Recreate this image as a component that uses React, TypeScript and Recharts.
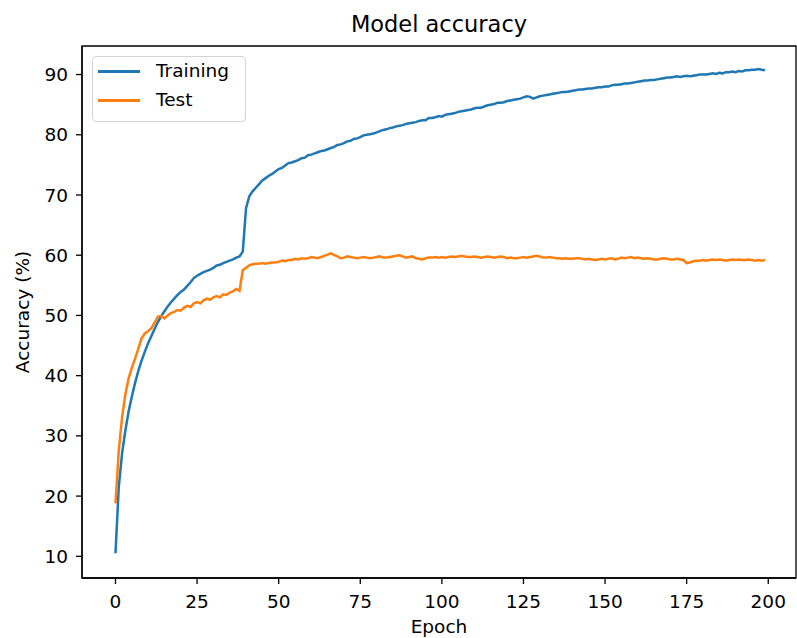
import React from 'react';
import { LineChart, Line, XAxis, YAxis, Legend, ReferenceArea } from 'recharts';

// Training accuracy (%) per epoch 0..199
const trainingAcc: number[] = [
  10.5, 21.5, 27.0, 30.8, 34.0, 36.5, 38.8, 40.8, 42.5, 44.0,
  45.4, 46.6, 47.8, 48.9, 49.9, 50.7, 51.5, 52.2, 52.8, 53.4,
  53.9, 54.3, 54.9, 55.5, 56.2, 56.6, 56.9, 57.2, 57.4, 57.6,
  57.9, 58.3, 58.4, 58.7, 58.9, 59.1, 59.3, 59.6, 59.8, 60.6,
  67.8, 69.8, 70.6, 71.2, 71.8, 72.4, 72.8, 73.2, 73.5, 73.9,
  74.3, 74.5, 74.9, 75.3, 75.4, 75.6, 75.8, 76.1, 76.2, 76.6,
  76.7, 76.9, 77.1, 77.3, 77.4, 77.6, 77.8, 78.0, 78.3, 78.4,
  78.6, 78.9, 79.0, 79.3, 79.4, 79.6, 79.9, 80.0, 80.1, 80.2,
  80.4, 80.6, 80.8, 80.9, 81.1, 81.2, 81.4, 81.5, 81.6, 81.8,
  81.9, 82.0, 82.1, 82.3, 82.4, 82.4, 82.8, 82.8, 82.9, 83.1,
  83.0, 83.3, 83.4, 83.5, 83.6, 83.8, 83.9, 84.0, 84.1, 84.2,
  84.4, 84.5, 84.5, 84.7, 84.9, 85.0, 85.1, 85.3, 85.3, 85.4,
  85.6, 85.7, 85.8, 85.9, 86.0, 86.2, 86.4, 86.3, 86.0, 86.2,
  86.4, 86.5, 86.6, 86.7, 86.8, 86.9, 87.0, 87.1, 87.1, 87.2,
  87.3, 87.4, 87.5, 87.5, 87.6, 87.7, 87.7, 87.8, 87.9, 87.9,
  88.0, 88.0, 88.2, 88.3, 88.3, 88.4, 88.5, 88.5, 88.6, 88.7,
  88.8, 88.9, 89.0, 89.0, 89.1, 89.1, 89.2, 89.3, 89.4, 89.5,
  89.5, 89.6, 89.7, 89.6, 89.7, 89.8, 89.7, 89.8, 89.9, 90.0,
  90.0, 90.0, 90.1, 90.2, 90.1, 90.3, 90.2, 90.4, 90.4, 90.5,
  90.4, 90.6, 90.5, 90.7, 90.7, 90.8, 90.8, 90.9, 90.8, 90.7,
];

// Test accuracy (%) per epoch 0..199
const testAcc: number[] = [
  18.8, 27.5, 33.0, 36.8, 39.5, 41.3, 42.8, 44.5, 46.2, 47.0,
  47.4, 47.9, 48.8, 49.8, 49.9, 49.5, 50.0, 50.4, 50.6, 50.9,
  50.8, 51.3, 51.6, 51.4, 52.0, 52.2, 52.0, 52.5, 52.8, 52.6,
  53.0, 53.2, 53.0, 53.5, 53.4, 53.8, 54.0, 54.4, 54.1, 57.5,
  57.9, 58.3, 58.5, 58.6, 58.6, 58.7, 58.6, 58.7, 58.8, 58.8,
  58.9, 59.1, 59.0, 59.2, 59.2, 59.4, 59.3, 59.5, 59.4, 59.5,
  59.7, 59.6, 59.5, 59.7, 59.9, 60.1, 60.3, 60.0, 59.8, 59.5,
  59.6, 59.8, 59.7, 59.6, 59.5, 59.6, 59.7, 59.6, 59.5, 59.6,
  59.7, 59.8, 59.6, 59.6, 59.7, 59.8, 59.9, 60.0, 59.8, 59.6,
  59.7, 59.8, 59.5, 59.4, 59.3, 59.5, 59.6, 59.6, 59.7, 59.6,
  59.7, 59.6, 59.7, 59.8, 59.7, 59.8, 59.9, 59.8, 59.7, 59.7,
  59.8, 59.7, 59.6, 59.7, 59.8, 59.7, 59.6, 59.7, 59.8, 59.7,
  59.5, 59.6, 59.5, 59.5, 59.6, 59.7, 59.6, 59.7, 59.8, 59.9,
  59.8, 59.6, 59.6, 59.7, 59.6, 59.5, 59.5, 59.4, 59.5, 59.4,
  59.4, 59.5, 59.5, 59.4, 59.3, 59.4, 59.3, 59.2, 59.3, 59.4,
  59.3, 59.4, 59.5, 59.3, 59.4, 59.6, 59.5, 59.6, 59.7, 59.5,
  59.6, 59.5, 59.4, 59.5, 59.4, 59.3, 59.3, 59.4, 59.5, 59.4,
  59.3, 59.3, 59.4, 59.3, 59.2, 58.7, 58.8, 59.0, 59.1, 59.1,
  59.2, 59.1, 59.2, 59.3, 59.2, 59.3, 59.2, 59.1, 59.2, 59.3,
  59.2, 59.3, 59.2, 59.2, 59.3, 59.2, 59.1, 59.2, 59.1, 59.2,
];

const xTicks: number[] = [0, 25, 50, 75, 100, 125, 150, 175, 200];
const yTicks: number[] = [10, 20, 30, 40, 50, 60, 70, 80, 90];
const seriesNames: string[] = ['Training', 'Test'];
const titleText = 'Model accuracy';
const xLabel = 'Epoch';
const yLabel = 'Accuracy (%)';

const data = trainingAcc.map((v, i) => ({ epoch: i, training: v, test: testAcc[i] }));

const FONT = '"DejaVu Sans", sans-serif';
const X_DOMAIN: [number, number] = [-10.26, 208.5];
const Y_DOMAIN: [number, number] = [6.4, 94.74];

const renderLegend = (props: any) => {
  const payload = [...(props.payload || [])].sort(
    (a: any, b: any) => seriesNames.indexOf(a.value) - seriesNames.indexOf(b.value)
  );
  return (
    <div
      style={{
        width: 154,
        height: 66,
        boxSizing: 'border-box',
        border: '1px solid #d4d4d4',
        borderRadius: 4,
        background: 'rgba(255,255,255,0.85)',
        paddingTop: 0,
        fontFamily: FONT,
        fontSize: 18.5,
        color: '#000',
      }}
    >
      {payload.map((entry: any, i: number) => (
        <div key={i} style={{ height: 29, display: 'flex', alignItems: 'center' }}>
          <span
            style={{
              display: 'inline-block',
              width: 42,
              height: 3,
              marginLeft: 5,
              marginRight: 16,
              background: entry.color,
            }}
          />
          <span style={{ lineHeight: 1 }}>{entry.value}</span>
        </div>
      ))}
    </div>
  );
};

const YLabel = (props: any) => {
  const vb = props.viewBox || { x: 0, y: 46, width: 82, height: 532 };
  const cx = 29;
  const cy = vb.y + vb.height / 2;
  return (
    <text
      x={cx}
      y={cy}
      transform={`rotate(-90, ${cx}, ${cy})`}
      textAnchor="middle"
      fontFamily={FONT}
      fontSize={18.5}
      fill="#000"
    >
      {yLabel}
    </text>
  );
};

export default function App() {
  return (
    <div style={{ position: 'absolute', left: 0, top: 0, width: 797, height: 638, background: '#fff' }}>
      <div
        style={{
          position: 'absolute',
          left: 82,
          width: 714,
          top: 12.5,
          textAlign: 'center',
          fontFamily: FONT,
          fontSize: 22.5,
          lineHeight: '22.5px',
          color: '#000',
        }}
      >
        {titleText}
      </div>
      <LineChart
        width={797}
        height={638}
        data={data}
        margin={{ top: 46, right: 1, bottom: 0, left: 0 }}
        style={{ fontFamily: FONT }}
      >
        <ReferenceArea
          x1={X_DOMAIN[0]}
          x2={X_DOMAIN[1]}
          y1={Y_DOMAIN[0]}
          y2={Y_DOMAIN[1]}
          fill="none"
          stroke="#000"
          strokeWidth={1.3}
          fillOpacity={0}
        />
        <XAxis
          type="number"
          dataKey="epoch"
          domain={X_DOMAIN}
          allowDataOverflow
          ticks={xTicks}
          interval={0}
          height={60}
          tickSize={6}
          tickMargin={11}
          axisLine={{ stroke: '#000', strokeWidth: 1.3 }}
          tickLine={{ stroke: '#000', strokeWidth: 1.3 }}
          tick={{ fill: '#000', fontSize: 18.5, fontFamily: FONT }}
          label={{ value: xLabel, position: 'insideBottom', offset: 5, fill: '#000', fontSize: 18.5, fontFamily: FONT }}
        />
        <YAxis
          type="number"
          domain={Y_DOMAIN}
          allowDataOverflow
          ticks={yTicks}
          interval={0}
          width={82}
          tickSize={6}
          tickMargin={8}
          axisLine={{ stroke: '#000', strokeWidth: 1.3 }}
          tickLine={{ stroke: '#000', strokeWidth: 1.3 }}
          tick={{ fill: '#000', fontSize: 18.5, fontFamily: FONT }}
          label={{ content: <YLabel /> }}
        />
        <Legend
          layout="vertical"
          align="center"
          verticalAlign="middle"
          content={renderLegend}
          wrapperStyle={{ position: 'absolute', left: 92, top: 56, width: 'auto', height: 'auto' }}
        />
        <Line
          type="linear"
          dataKey="training"
          name={seriesNames[0]}
          stroke="#1f77b4"
          strokeWidth={2.5}
          dot={false}
          activeDot={false}
          isAnimationActive={false}
        />
        <Line
          type="linear"
          dataKey="test"
          name={seriesNames[1]}
          stroke="#ff7f0e"
          strokeWidth={2.5}
          dot={false}
          activeDot={false}
          isAnimationActive={false}
        />
      </LineChart>
    </div>
  );
}
